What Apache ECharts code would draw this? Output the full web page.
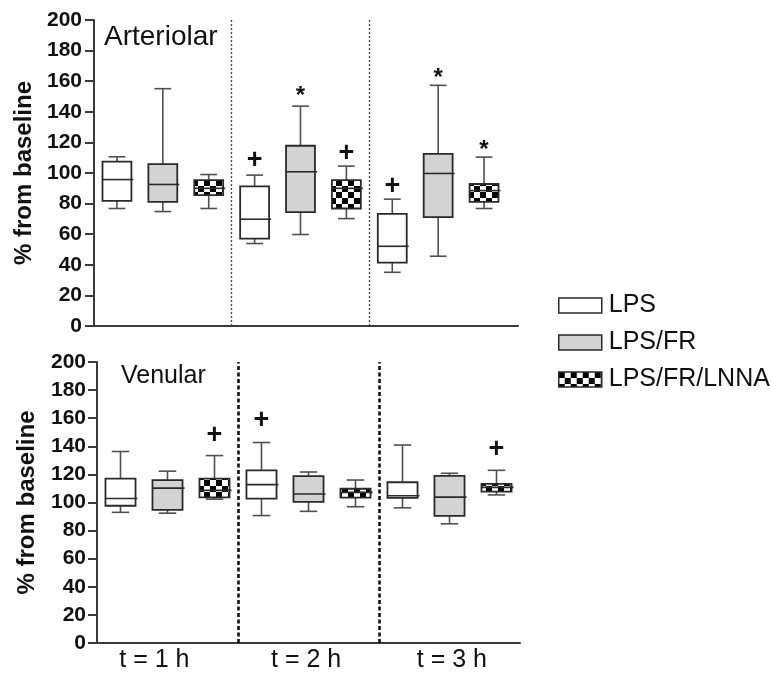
<!DOCTYPE html>
<html>
<head>
<meta charset="utf-8">
<script src="https://cdn.jsdelivr.net/npm/echarts@6/dist/echarts.min.js"></script>
<style>html,body{margin:0;padding:0;background:#fff;}#c{width:771px;height:673px;}</style>
</head>
<body>
<div id="c"></div>
<script>
// ---- data ----
const groups = ['LPS', 'LPS/FR', 'LPS/FR/LNNA'];
const timeLabels = ['t = 1 h', 't = 2 h', 't = 3 h'];
// each entry: [min, Q1, median, Q3, max] for t = 1, 2, 3 h
const arteriolarLPS  = [[76.8, 81.8, 95.7, 107.5, 110.6], [53.9, 57.1, 69.8, 91.2, 98.6], [35.1, 41.4, 52.1, 73.3, 82.9]];
const arteriolarFR   = [[74.8, 81.1, 92.5, 105.8, 155.1], [59.8, 74.4, 100.8, 117.8, 143.7], [45.6, 71.1, 99.7, 112.5, 157.3]];
const arteriolarLNNA = [[76.8, 85.5, 90.0, 95.3, 99.0], [70.2, 76.8, 90.0, 95.3, 104.5], [76.8, 81.1, 88.5, 92.8, 110.4]];
const venularLPS  = [[93.0, 97.7, 102.8, 117.0, 136.3], [90.7, 102.8, 112.7, 122.9, 142.7], [96.2, 103.3, 104.8, 114.4, 140.9]];
const venularFR   = [[92.4, 94.8, 110.2, 115.9, 122.3], [93.7, 100.5, 106.1, 118.8, 121.7], [84.8, 90.5, 103.8, 118.9, 120.8]];
const venularLNNA = [[102.4, 103.7, 108.6, 117.0, 133.4], [97.0, 103.5, 107.2, 109.8, 116.0], [105.4, 107.8, 110.8, 113.3, 122.9]];
// significance marks: [group index, time index, symbol, value]
const arteriolarMarks = [[0, 1, '+', 108], [1, 1, '*', 154], [2, 1, '+', 113], [0, 2, '+', 91], [1, 2, '*', 166], [2, 2, '*', 119]];
const venularMarks = [[2, 0, '+', 148], [0, 1, '+', 158], [2, 2, '+', 138]];
const panelTitles = ['Arteriolar', 'Venular'];
const yAxisTitle = '% from baseline';
const labelPositions = [0.72, 3.95, 7.05];

// ---- styling helpers ----
const FONT = 'Liberation Sans, Arial, Helvetica, sans-serif';
const pc = document.createElement('canvas');
pc.width = 12; pc.height = 12;
const g = pc.getContext('2d');
g.fillStyle = '#fff'; g.fillRect(0, 0, 12, 12);
g.fillStyle = '#000'; g.fillRect(0, 0, 6, 6); g.fillRect(6, 6, 6, 6);
const checker = { image: pc, repeat: 'repeat' };
const fills = ['#ffffff', '#d3d3d3', checker];

function toData(arr, gi) {
  return arr.map((v, t) => [t * 3 + gi].concat(v));
}

function boxRenderer(fill, widthUnits) {
  return function (params, api) {
    const x = api.value(0);
    const pMin = api.coord([x, api.value(1)]);
    const pQ1 = api.coord([x, api.value(2)]);
    const pMed = api.coord([x, api.value(3)]);
    const pQ3 = api.coord([x, api.value(4)]);
    const pMax = api.coord([x, api.value(5)]);
    const w = api.size([widthUnits, 0])[0];
    const cw = w * 0.58;
    const cx = pMed[0];
    const wh = { stroke: '#505050', lineWidth: 1.6 };
    return {
      type: 'group',
      children: [
        { type: 'line', shape: { x1: cx, y1: pQ3[1], x2: cx, y2: pMax[1] }, style: wh },
        { type: 'line', shape: { x1: cx, y1: pQ1[1], x2: cx, y2: pMin[1] }, style: wh },
        { type: 'line', shape: { x1: cx - cw / 2, y1: pMax[1], x2: cx + cw / 2, y2: pMax[1] }, style: wh },
        { type: 'line', shape: { x1: cx - cw / 2, y1: pMin[1], x2: cx + cw / 2, y2: pMin[1] }, style: wh },
        { type: 'rect', shape: { x: cx - w / 2, y: pQ3[1], width: w, height: pQ1[1] - pQ3[1] },
          style: { fill: fill, stroke: '#2a2a2a', lineWidth: 1.8 } },
        { type: 'line', shape: { x1: cx - w / 2, y1: pMed[1], x2: cx + w / 2 + 2, y2: pMed[1] },
          style: { stroke: '#2a2a2a', lineWidth: 1.6 } }
      ]
    };
  };
}

function markRenderer(marks) {
  return function (params, api) {
    const m = marks[params.dataIndex];
    const p = api.coord([api.value(0), api.value(1)]);
    const isStar = m[2] === '*';
    return {
      type: 'text',
      x: p[0], y: p[1] + (isStar ? 6 : 0),
      style: {
        text: m[2], fill: '#111', align: 'center', verticalAlign: 'middle',
        font: 'bold ' + (isStar ? 24 : 27) + 'px ' + FONT
      }
    };
  };
}

const panels = [
  { sets: [arteriolarLPS, arteriolarFR, arteriolarLNNA], marks: arteriolarMarks, bw: 0.63 },
  { sets: [venularLPS, venularFR, venularLNNA], marks: venularMarks, bw: 0.64 }
];

const series = [];
panels.forEach((p, pi) => {
  p.sets.forEach((arr, gi) => {
    series.push({
      name: groups[gi], type: 'custom', xAxisIndex: pi, yAxisIndex: pi,
      renderItem: boxRenderer(fills[gi], p.bw),
      itemStyle: { color: fills[gi], borderColor: '#2a2a2a', borderWidth: 1.5 },
      encode: { x: 0, y: [1, 2, 3, 4, 5] },
      data: toData(arr, gi), z: 3
    });
  });
  series.push({
    name: 'marks' + pi, type: 'custom', xAxisIndex: pi, yAxisIndex: pi,
    renderItem: markRenderer(p.marks),
    encode: { x: 0, y: 1 },
    data: p.marks.map(m => [m[1] * 3 + m[0], m[3]]), z: 4
  });
  series.push({
    name: 'div' + pi, type: 'line', xAxisIndex: pi, yAxisIndex: pi, data: [],
    markLine: {
      silent: true, symbol: 'none', label: { show: false },
      lineStyle: pi === 0
        ? { color: '#444', width: 1.3, type: [2, 2] }
        : { color: '#111', width: 2.6, type: [4, 2.5] },
      data: [{ xAxis: 2.5 }, { xAxis: 5.5 }]
    }
  });
});

function yAxis(gi, gap, margin) {
  return {
    type: 'value', gridIndex: gi, min: 0, max: 200, interval: 20,
    name: yAxisTitle, nameLocation: 'middle', nameGap: gap, nameRotate: 90,
    nameTextStyle: { fontFamily: FONT, fontSize: 24, fontWeight: 'bold', color: '#111' },
    axisLine: { show: true, onZero: false, lineStyle: { color: '#3a3a3a', width: 2 } },
    axisTick: { show: true, length: 9, lineStyle: { color: '#3a3a3a', width: 2 } },
    axisLabel: { fontFamily: FONT, fontSize: 21, fontWeight: 'bold', color: '#111', margin: margin },
    splitLine: { show: false }
  };
}

const option = {
  animation: false,
  backgroundColor: '#fff',
  title: [
    { text: panelTitles[0], left: 99, top: 18, textStyle: { fontFamily: FONT, fontSize: 28, fontWeight: 'normal', color: '#111' } },
    { text: panelTitles[1], left: 116, top: 359, textStyle: { fontFamily: FONT, fontSize: 25, fontWeight: 'normal', color: '#111' } }
  ],
  legend: {
    data: groups, orient: 'vertical', left: 553, top: 288,
    icon: 'rect', itemWidth: 43, itemHeight: 15, itemGap: 12,
    textStyle: { fontFamily: FONT, fontSize: 25, color: '#111', padding: [0, 0, 0, 2] },
    itemStyle: { borderColor: '#2a2a2a', borderWidth: 1.5 },
    selectedMode: false
  },
  grid: [
    { left: 94, top: 20, width: 424, height: 306, containLabel: false, outerBoundsMode: 'none' },
    { left: 97, top: 362, width: 423, height: 281, containLabel: false, outerBoundsMode: 'none' }
  ],
  xAxis: [
    { type: 'value', gridIndex: 0, min: -0.5, max: 8.74,
      axisLine: { show: true, onZero: false, lineStyle: { color: '#3a3a3a', width: 2 } },
      axisTick: { show: false }, axisLabel: { show: false }, splitLine: { show: false } },
    { type: 'value', gridIndex: 1, min: -0.5, max: 8.5,
      axisLine: { show: true, onZero: false, lineStyle: { color: '#3a3a3a', width: 2 } },
      axisTick: { show: false }, splitLine: { show: false },
      axisLabel: {
        customValues: labelPositions, showMinLabel: true, showMaxLabel: true,
        fontFamily: FONT, fontSize: 25, color: '#111', margin: 5,
        formatter: function (v) {
          const i = labelPositions.findIndex(p => Math.abs(p - v) < 1e-6);
          return i >= 0 ? timeLabels[i] : '';
        }
      } }
  ],
  yAxis: [yAxis(0, 55, 12), yAxis(1, 58, 11)],
  series: series
};

const chart = echarts.init(document.getElementById('c'));
chart.setOption(option);
</script>
</body>
</html>
